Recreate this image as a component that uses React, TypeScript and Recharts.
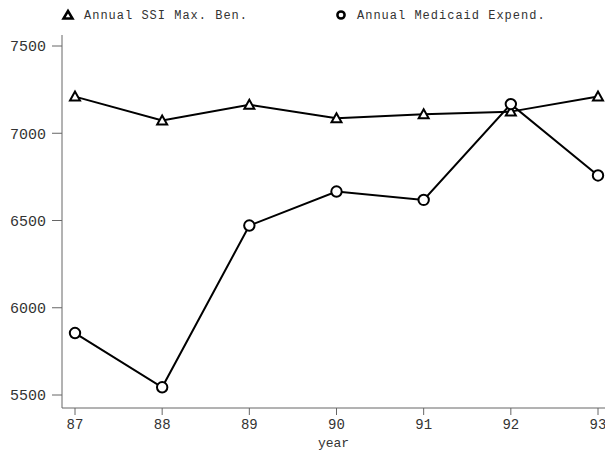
import { LineChart, Line, XAxis, YAxis } from "recharts";

const years = [87, 88, 89, 90, 91, 92, 93];
const ssiMaxBen = [7210, 7073, 7163, 7086, 7109, 7124, 7210];
const medicaidExpend = [5855, 5544, 6471, 6666, 6618, 7167, 6758];
const yTicks = [5500, 6000, 6500, 7000, 7500];

const data = years.map((year, i) => ({
  year,
  ssi: ssiMaxBen[i],
  medicaid: medicaidExpend[i],
}));

const FONT = "'Liberation Mono', 'DejaVu Sans Mono', monospace";
const TEXT = "#333";
const AXIS = "#666";

/* ===== markers ===== */
const Triangle = ({ cx, cy }: any) => (
  <polygon
    points={`${cx},${cy - 5} ${cx - 5},${cy + 4} ${cx + 5},${cy + 4}`}
    fill="#fff"
    stroke="#000"
    strokeWidth={2}
  />
);

const Ring = ({ cx, cy }: any) => (
  <circle cx={cx} cy={cy} r={5.2} fill="#fff" stroke="#000" strokeWidth={2} />
);

export default function App() {
  return (
    <div
      style={{
        position: "absolute",
        left: 0,
        top: 0,
        width: 605,
        height: 451,
        background: "#fff",
        fontFamily: FONT,
      }}
    >
      {/* ===== legend ===== */}
      <svg
        width={605}
        height={34}
        style={{ position: "absolute", left: 0, top: 0 }}
      >
        <polygon
          points="68,11 63.5,18.5 72.5,18.5"
          fill="#fff"
          stroke="#000"
          strokeWidth={2.5}
        />
        <text
          x={84}
          y={19}
          fontSize={12}
          letterSpacing={1}
          fill={TEXT}
          fontFamily={FONT}
        >
          Annual SSI Max. Ben.
        </text>
        <circle cx={341} cy={15} r={3.6} fill="#fff" stroke="#000" strokeWidth={2.5} />
        <text
          x={357}
          y={19}
          fontSize={12}
          letterSpacing={1}
          fill={TEXT}
          fontFamily={FONT}
        >
          Annual Medicaid Expend.
        </text>
      </svg>

      {/* ===== chart ===== */}
      <LineChart
        width={605}
        height={451}
        data={data}
        margin={{ top: 35, right: 0, bottom: 0, left: 0 }}
      >
        <XAxis
          dataKey="year"
          type="number"
          domain={[87, 93]}
          ticks={years}
          allowDecimals={false}
          padding={{ left: 13, right: 7 }}
          height={43}
          stroke={AXIS}
          tickSize={7}
          tickMargin={4}
          tick={{ fill: TEXT, fontSize: 14, fontFamily: FONT }}
          label={{
            value: "year",
            position: "insideBottom",
            offset: 4,
            fill: TEXT,
            fontSize: 13,
            fontFamily: FONT,
          }}
        />
        <YAxis
          type="number"
          domain={[5500, 7500]}
          ticks={yTicks}
          padding={{ top: 11, bottom: 13 }}
          width={62}
          stroke={AXIS}
          tickSize={10}
          tickMargin={6}
          tick={{ fill: TEXT, fontSize: 15, fontFamily: FONT }}
        />
        <Line
          dataKey="ssi"
          stroke="#000"
          strokeWidth={2}
          dot={<Triangle />}
          isAnimationActive={false}
        />
        <Line
          dataKey="medicaid"
          stroke="#000"
          strokeWidth={2}
          dot={<Ring />}
          isAnimationActive={false}
        />
      </LineChart>
    </div>
  );
}
